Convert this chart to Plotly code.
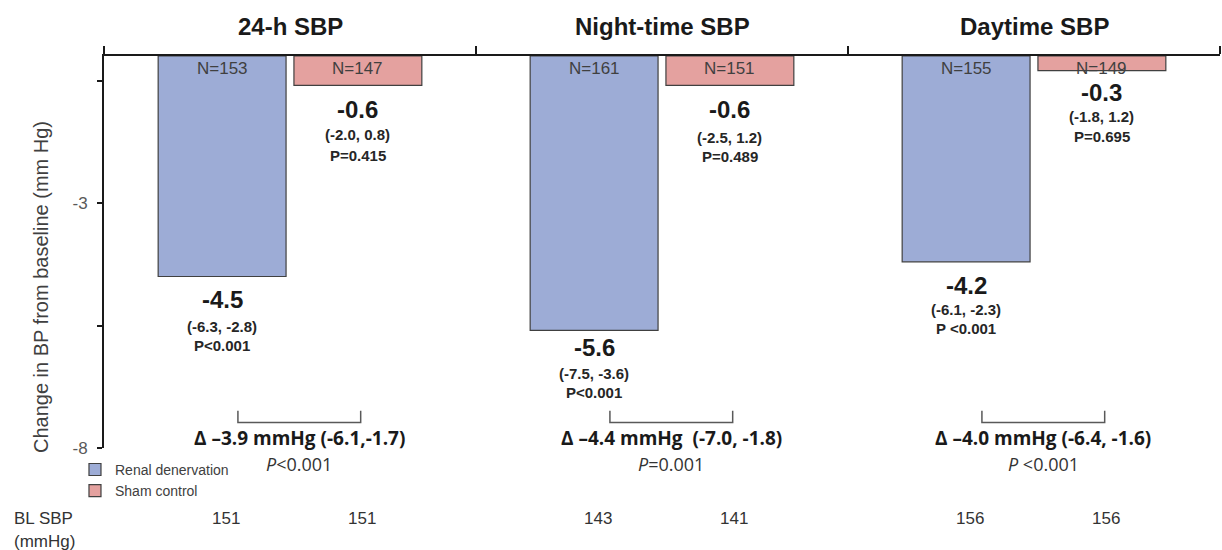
import plotly.graph_objects as go

groups = ["24-h SBP", "Night-time SBP", "Daytime SBP"]
rdn_change = [-4.5, -5.6, -4.2]
sham_change = [-0.6, -0.6, -0.3]
rdn_n = [153, 161, 155]
sham_n = [147, 151, 149]
rdn_ci = ["(-6.3, -2.8)", "(-7.5, -3.6)", "(-6.1, -2.3)"]
sham_ci = ["(-2.0, 0.8)", "(-2.5, 1.2)", "(-1.8, 1.2)"]
rdn_p = ["P<0.001", "P<0.001", "P <0.001"]
sham_p = ["P=0.415", "P=0.489", "P=0.695"]
delta_text = ["Δ –3.9 mmHg (-6.1,-1.7)", "Δ –4.4 mmHg\u00a0 (-7.0, -1.8)", "Δ –4.0 mmHg (-6.4, -1.6)"]
delta_p = ["<0.001", "=0.001", " <0.001"]
bl_rdn = [151, 143, 156]
bl_sham = [151, 141, 156]

BLUE = "#9dacd6"
RED = "#e4a19f"
EDGE = "#404040"
ARIAL = "Liberation Sans, Arial, sans-serif"
CAL = "Open Sans, sans-serif"

xs = list(range(len(groups)))
off = 0.1825

fig = go.Figure()
fig.add_trace(go.Bar(x=xs, y=rdn_change, name="Renal denervation",
                     marker=dict(color=BLUE, line=dict(color=EDGE, width=1.2))))
fig.add_trace(go.Bar(x=xs, y=sham_change, name="Sham control",
                     marker=dict(color=RED, line=dict(color=EDGE, width=1.2))))

ann = []
shapes = []
# paper y from pixel row (plot area rows 56..448)
def py(px):
    return (448 - px) / 392

def px_(x):
    return (x - 104) / 1116

for i, g in enumerate(groups):
    ann.append(dict(x=i, y=py(26), xref="x", yref="paper", text=f"<b>{g}</b>", showarrow=False,
                    font=dict(family=ARIAL, size=24, color="#1a1a1a"), yanchor="middle"))

def bar_labels(xc, val, n, ci, p, d):
    ann.append(dict(x=xc, y=0, xref="x", yref="y", text=f"N={n}", showarrow=False, yanchor="top",
                    yshift=-1, font=dict(family=ARIAL, size=17, color="#404040")))
    ann.append(dict(x=xc, y=val, xref="x", yref="y", text=f"<b>{val:.1f}</b>", showarrow=False,
                    yanchor="middle", yshift=-d[0], font=dict(family=ARIAL, size=24, color="#1a1a1a")))
    ann.append(dict(x=xc, y=val, xref="x", yref="y", text=f"<b>{ci}</b>", showarrow=False,
                    yanchor="middle", yshift=-d[1], font=dict(family=ARIAL, size=15, color="#262626")))
    ann.append(dict(x=xc, y=val, xref="x", yref="y", text=f"<b>{p}</b>", showarrow=False,
                    yanchor="middle", yshift=-d[2], font=dict(family=ARIAL, size=15, color="#262626")))

rdn_shift = [(23, 50, 69), (17, 43, 62), (24, 48, 67)]
sham_shift = [(24, 49, 70), (24, 52, 71), (22, 46, 66)]
for i in xs:
    bar_labels(i - off, rdn_change[i], rdn_n[i], rdn_ci[i], rdn_p[i], rdn_shift[i])
    bar_labels(i + off, sham_change[i], sham_n[i], sham_ci[i], sham_p[i], sham_shift[i])
    shapes.append(dict(type="path", xref="x", yref="y",
                       path=f"M {i-0.14},-7.24 L {i-0.14},-7.48 L {i+0.19},-7.48 L {i+0.19},-7.24",
                       line=dict(color="#595959", width=1.5)))
    ann.append(dict(x=i + 0.025, y=py(438), xref="x", yref="paper", text=f"<b>{delta_text[i]}</b>",
                    showarrow=False, yanchor="middle", xanchor="center",
                    font=dict(family=CAL, size=19, color="#1a1a1a")))
    ann.append(dict(x=i + 0.025, y=py(464), xref="x", yref="paper", text=f"<i>P</i>{delta_p[i]}",
                    showarrow=False, yanchor="middle", xanchor="center",
                    font=dict(family=CAL, size=18, color="#333333")))
    ann.append(dict(x=i - off + 0.01, y=py(518), xref="x", yref="paper", text=str(bl_rdn[i]),
                    showarrow=False, yanchor="middle", xanchor="center",
                    font=dict(family=ARIAL, size=17, color="#333333")))
    ann.append(dict(x=i + off + 0.01, y=py(518), xref="x", yref="paper", text=str(bl_sham[i]),
                    showarrow=False, yanchor="middle", xanchor="center",
                    font=dict(family=ARIAL, size=17, color="#333333")))

ann.append(dict(x=px_(12), y=py(518), xref="paper", yref="paper", text="BL SBP", xanchor="left",
                yanchor="middle", showarrow=False, font=dict(family=ARIAL, size=17, color="#333333")))
ann.append(dict(x=px_(12), y=py(541), xref="paper", yref="paper", text="(mmHg)", xanchor="left",
                yanchor="middle", showarrow=False, font=dict(family=ARIAL, size=17, color="#333333")))
ann.append(dict(x=px_(41), y=py(287), xref="paper", yref="paper", text="Change in BP from baseline (mm Hg)",
                textangle=-90, showarrow=False, xanchor="center", yanchor="middle",
                font=dict(family=ARIAL, size=20, color="#404040")))

fig.update_layout(
    width=1222, height=550,
    margin=dict(l=104, r=2, t=56, b=102),
    plot_bgcolor="white", paper_bgcolor="white",
    barmode="group", bargap=0.27, bargroupgap=0.058,
    showlegend=True,
    legend=dict(x=-0.026, y=-0.015, xanchor="left", yanchor="top", bgcolor="rgba(0,0,0,0)",
                font=dict(family=ARIAL, size=14, color="#404040"), itemwidth=30,
                tracegroupgap=0),
    annotations=ann, shapes=shapes,
    xaxis=dict(range=[-0.5, 2.5], side="top", showline=True, linecolor="#1a1a1a", linewidth=2,
               tickvals=[-0.5, 0.5, 1.5, 2.5], ticks="outside", ticklen=8, tickwidth=2,
               tickcolor="#1a1a1a", showticklabels=False, showgrid=False, zeroline=False),
    yaxis=dict(range=[-8, 0], showline=True, linecolor="#1a1a1a", linewidth=2,
               tickvals=[-8, -5.5, -3, -0.5], ticktext=["-8", "", "-3", ""], ticks="outside",
               ticklen=5, tickwidth=2, tickcolor="#1a1a1a", showgrid=False, zeroline=False,
               ticklabelstandoff=6,
               tickfont=dict(family=ARIAL, size=17, color="#595959")),
)

fig.write_html("out.html")
